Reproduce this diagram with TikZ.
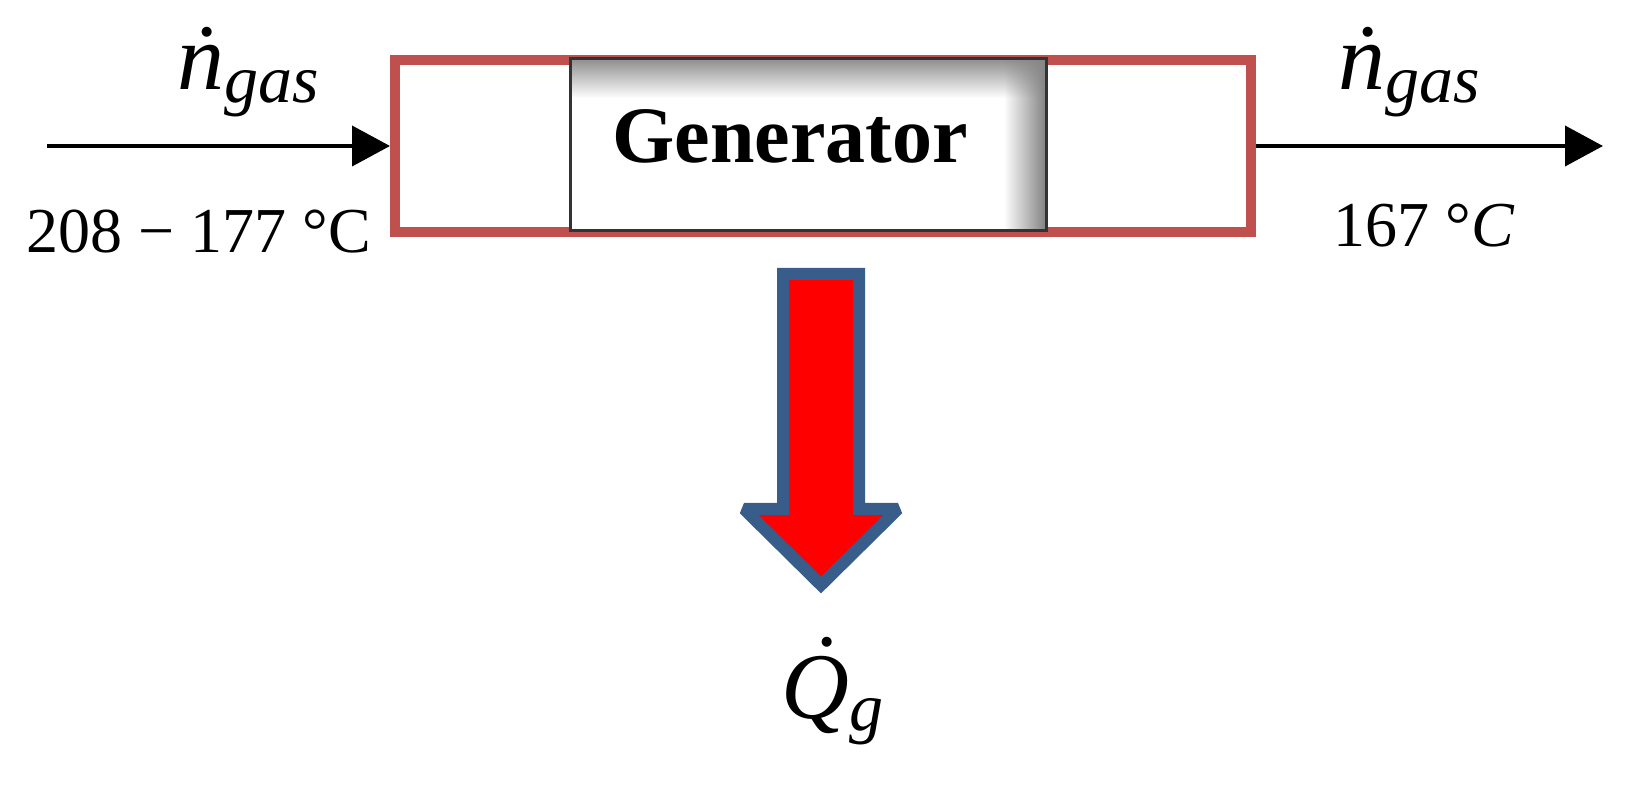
\documentclass[tikz,border=0pt]{standalone}
\usepackage{fontspec}
\setmainfont{Liberation Serif}
\usetikzlibrary{arrows.meta,fadings}
\tikzfading[name=fadedown, top color=transparent!0, bottom color=transparent!100]
\tikzfading[name=fadeleft, right color=transparent!0, left color=transparent!100]
\definecolor{boxred}{HTML}{C0504D}
\definecolor{arrblue}{HTML}{385D8A}
\begin{document}
\begin{tikzpicture}[x=0.5pt,y=-0.5pt,
  redbox/.style={draw=boxred, line width=5pt, fill=white, minimum width=428pt, minimum height=86pt, inner sep=0pt},
  genbox/.style={draw=black, line width=1.5pt, fill=white, minimum width=238pt, minimum height=86pt, inner sep=0pt},
  flow/.style={line width=2pt, -{Triangle[length=19pt,width=20pt]}},
  mathlbl/.style={font=\fontsize{47}{47}\selectfont\itshape, inner sep=0pt, anchor=base west},
  templbl/.style={font=\fontsize{32}{32}\selectfont, inner sep=0pt, anchor=base west},
  heat/.style={draw=arrblue, fill=red, line width=6pt, miter limit=2}]
\useasboundingbox (0,0) rectangle (1630,786);
% outer heat exchanger box
\node[redbox] (hx) at (823,146) {};
% generator box with inner shadow
\node[genbox] (gen) at (808,145) {};
\fill[gray!85, path fading=fadedown] (571.5,60.5) rectangle (1044.5,98);
\fill[gray!95, path fading=fadeleft] (1004,60.5) rectangle (1044.5,229.5);
\draw[black!80, line width=1.5pt] (570,59) rectangle (1046,231);
\node[font=\fontsize{40}{40}\selectfont\bfseries, inner sep=0pt] (gentext) at (790,136) {Generator};
% gas flow connectors
\coordinate (inS) at (47,146);
\coordinate (outE) at (1603,146);
\draw[flow] (inS) -- (hx.west);
\draw[flow] (hx.east) -- (outE);
% heat output arrow
\draw[heat] (783,274) -- (859,274) -- (859,509) -- (898,509) -- (821,585) -- (744,509) -- (783,509) -- cycle;
% labels
\node[mathlbl] (nin) at (177,90) {\accent"02D9 n\raisebox{-6.5pt}{\fontsize{34}{34}\selectfont gas}};
\node[mathlbl] (nout) at (1338,90) {\accent"02D9 n\raisebox{-6.5pt}{\fontsize{34}{34}\selectfont gas}};
\node[templbl] (tin) at (26,253) {208 − 177 °C};
\node[templbl] (tout) at (1333,247) {167 °\textit{C}};
\node[mathlbl] (qg) at (781,718) {\accent"02D9 Q\raisebox{-6pt}{\fontsize{34}{34}\selectfont g}};
\end{tikzpicture}
\end{document}
